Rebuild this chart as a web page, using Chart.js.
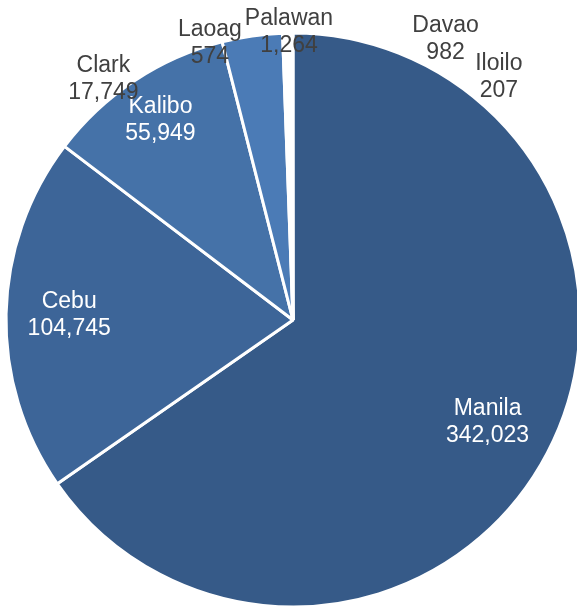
<!DOCTYPE html>
<html>
<head>
<meta charset="utf-8">
<script src="https://cdn.jsdelivr.net/npm/chart.js@4.4.0/dist/chart.umd.min.js"></script>
<style>
  html, body { margin: 0; padding: 0; background: #fff; }
  #wrap { width: 577px; height: 607px; position: relative; }
</style>
</head>
<body>
<div id="wrap"><canvas id="myChart"></canvas></div>
<script>
// airports and passenger counts
const airports = ['Manila', 'Cebu', 'Kalibo', 'Clark', 'Laoag', 'Palawan', 'Davao', 'Iloilo'];
const passengers = [342023, 104745, 55949, 17749, 574, 1264, 982, 207];

// slice colours (the four tiny ones disappear under the white borders)
const sliceColors = ['#365A88', '#3D6598', '#4572A8', '#4B7BB6', '#ffffff', '#ffffff', '#ffffff', '#ffffff'];

// label placement: angle (deg clockwise from top, null = middle of slice), distance in radii
const labelInside = [true, true, true, false, false, false, false, false];
const labelAngle = [null, null, null, 321.8, 343.3, 359.2, 28.5, 40.3];
const labelDist = [0.765, 0.78, 0.836, 1.068, 1.008, 1.003, 1.114, 1.109];

const sliceLabels = {
    id: 'sliceLabels',
    afterDatasetsDraw(chart) {
        const ctx = chart.ctx;
        const arcs = chart.getDatasetMeta(0).data;
        ctx.save();
        ctx.font = '23px "Liberation Sans", Arial, sans-serif';
        ctx.textAlign = 'center';
        ctx.textBaseline = 'middle';
        arcs.forEach((arc, i) => {
            const p = arc.getProps(['x', 'y', 'startAngle', 'endAngle', 'outerRadius'], true);
            let a = (p.startAngle + p.endAngle) / 2;
            if (labelAngle[i] !== null) a = (labelAngle[i] - 90) * Math.PI / 180;
            const d = labelDist[i] * p.outerRadius;
            const x = p.x + Math.cos(a) * d;
            const y = p.y + Math.sin(a) * d;
            ctx.fillStyle = labelInside[i] ? '#ffffff' : '#404040';
            ctx.fillText(airports[i], x, y - 13.5);
            ctx.fillText(passengers[i].toLocaleString('en-US'), x, y + 13.5);
        });
        ctx.restore();
    }
};

const ctx = document.getElementById('myChart').getContext('2d');

const data = {
    labels: airports,
    datasets: [{
        data: passengers,
        backgroundColor: sliceColors,
        borderColor: '#ffffff',
        borderWidth: 3,
        clip: false,
    }],
};

const config = {
    type: 'pie',
    plugins: [sliceLabels],
    data: data,
    options: {
        responsive: true,
        maintainAspectRatio: false,
        animation: false,
        radius: 287,
        layout: {
            padding: {left: 9, top: 33, right: 0, bottom: 0}
        },
        plugins: {
            legend: {display: false},
            tooltip: {enabled: false},
        }
    }
};

const myChart = new Chart(ctx, config);
</script>
</body>
</html>
